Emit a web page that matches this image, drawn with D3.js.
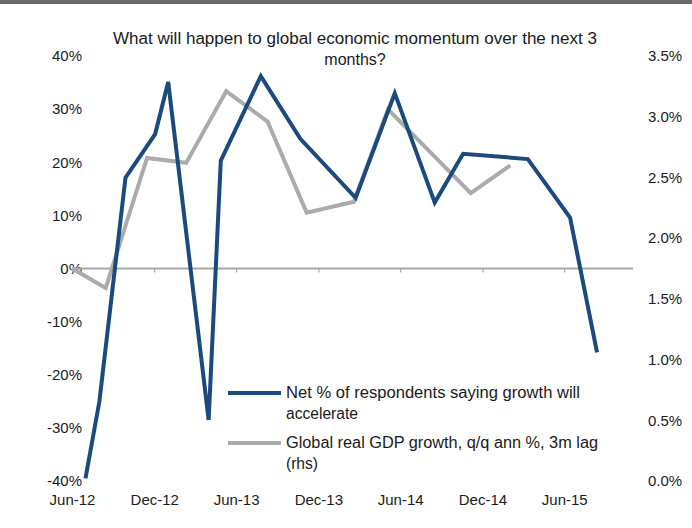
<!DOCTYPE html>
<html>
<head>
<meta charset="utf-8">
<script src="https://cdn.jsdelivr.net/npm/d3@7"></script>
<style>
  html, body { margin: 0; padding: 0; background: #ffffff; }
  svg { display: block; }
  text { font-family: "Liberation Sans Narrow", "Arial Narrow", "Liberation Sans", Arial, sans-serif; fill: #1a1a1a; }
</style>
</head>
<body>
<svg id="chart" width="692" height="528"></svg>
<script>
// ---------- DATA ----------
const titleLines = ["What will happen to global economic momentum over the next 3", "months?"];

const surveyDates = ["2012-07-01","2012-08-01","2012-09-28","2012-12-03","2013-01-01","2013-04-01","2013-04-28",
  "2013-07-26","2013-10-22","2014-02-22","2014-05-20","2014-08-17","2014-10-19","2015-03-12","2015-06-14","2015-08-13"];
const surveyValues = [-39.5, -25, 17.1, 25.3, 35.1, -28.5, 20.3, 36.2, 24.4, 13.3, 33.0, 12.4, 21.6, 20.6, 9.6, -15.8];

const gdpDates = ["2012-06-01","2012-08-15","2012-11-15","2013-02-10","2013-05-10","2013-08-10","2013-11-05",
  "2014-02-18","2014-05-05","2014-11-05","2015-02-01"];
const gdpValues = [1.75, 1.59, 2.66, 2.62, 3.21, 2.96, 2.21, 2.30, 3.06, 2.37, 2.60];

const xTickDates = ["2012-06-01","2012-12-01","2013-06-01","2013-12-01","2014-06-01","2014-12-01","2015-06-01"];
const xTickLabels = ["Jun-12","Dec-12","Jun-13","Dec-13","Jun-14","Dec-14","Jun-15"];
const leftTicks = [-40, -30, -20, -10, 0, 10, 20, 30, 40];
const rightTicks = [0, 0.5, 1.0, 1.5, 2.0, 2.5, 3.0, 3.5];

const legendLabels = [
  ["Net % of respondents saying growth will", "accelerate"],
  ["Global real GDP growth, q/q ann %, 3m lag", "(rhs)"]
];

// ---------- STYLE ----------
const blue = "#1b4a7e";
const gray = "#ababab";
const axisGray = "#a8a8a8";
const titleWidths = [484, 0];
const legendWidths = [[294, 72], [312, 32]];

const svg = d3.select("#chart");
const parse = d3.timeParse("%Y-%m-%d");

const x = d3.scaleTime()
  .domain([parse("2012-06-01"), parse("2015-11-01")])
  .range([72, 633]);
const yL = d3.scaleLinear().domain([-40, 40]).range([481, 56]);
const yR = d3.scaleLinear().domain([0, 3.5]).range([481, 56]);

// top rule (cropped header)
svg.append("rect").attr("x", 0).attr("y", 0).attr("width", 692).attr("height", 4).attr("fill", "#6a6a6a");

// title
svg.append("g").selectAll("text").data(titleLines).join("text")
  .attr("x", 355).attr("y", (d, i) => 44 + i * 21)
  .attr("text-anchor", "middle")
  .style("font-size", "16px")
  .each(function (d, i) {
    if (titleWidths[i]) d3.select(this).attr("textLength", titleWidths[i]).attr("lengthAdjust", "spacingAndGlyphs");
  })
  .text(d => d);

// left axis
const gL = svg.append("g").attr("transform", "translate(82,0)")
  .call(d3.axisLeft(yL).tickValues(leftTicks).tickSize(0).tickPadding(0).tickFormat(d => d + "%"));
gL.select(".domain").remove();
gL.selectAll("text").style("font-size", "15px").style("font-family", null).attr("fill", "#1a1a1a");

// right axis
const gR = svg.append("g").attr("transform", "translate(648,0)")
  .call(d3.axisRight(yR).tickValues(rightTicks).tickSize(0).tickPadding(0).tickFormat(d => d3.format(".1f")(d) + "%"));
gR.select(".domain").remove();
gR.selectAll("text").style("font-size", "15px").style("font-family", null).attr("fill", "#1a1a1a");

// zero axis line with ticks
const gX = svg.append("g").attr("transform", `translate(0,${yL(0)})`)
  .call(d3.axisBottom(x).tickValues(xTickDates.map(parse)).tickSize(4).tickSizeOuter(0).tickFormat(""));
gX.select(".domain").attr("stroke", axisGray).attr("stroke-width", 2).attr("d", `M${x.range()[0]},0H${x.range()[1]}`);
gX.selectAll(".tick line").attr("stroke", axisGray).attr("stroke-width", 1.2);

// bottom labels
const gXL = svg.append("g").attr("transform", "translate(0,481)")
  .call(d3.axisBottom(x).tickValues(xTickDates.map(parse)).tickSize(0).tickPadding(13)
    .tickFormat((d, i) => xTickLabels[i]));
gXL.select(".domain").remove();
gXL.selectAll("text").style("font-size", "15px").style("font-family", null).attr("fill", "#1a1a1a");

// lines
const gdpData = gdpDates.map((d, i) => ({ date: parse(d), v: gdpValues[i] }));
const surveyData = surveyDates.map((d, i) => ({ date: parse(d), v: surveyValues[i] }));

svg.append("path").datum(gdpData)
  .attr("fill", "none").attr("stroke", gray).attr("stroke-width", 4).attr("stroke-linejoin", "miter")
  .attr("d", d3.line().x(d => x(d.date)).y(d => yR(d.v)));

svg.append("path").datum(surveyData)
  .attr("fill", "none").attr("stroke", blue).attr("stroke-width", 4).attr("stroke-linejoin", "miter")
  .attr("d", d3.line().x(d => x(d.date)).y(d => yL(d.v)));

// legend
const legendColors = [blue, gray];
const legendY = [393, 443];
const lg = svg.append("g");
legendLabels.forEach((lines, i) => {
  lg.append("line").attr("x1", 228).attr("x2", 281).attr("y1", legendY[i]).attr("y2", legendY[i])
    .attr("stroke", legendColors[i]).attr("stroke-width", 4);
  lg.append("g").selectAll("text").data(lines).join("text")
    .attr("x", 286).attr("y", (d, j) => legendY[i] + 5 + j * 21)
    .style("font-size", "16px")
    .attr("textLength", (d, j) => legendWidths[i][j])
    .attr("lengthAdjust", "spacingAndGlyphs")
    .text(d => d);
});
</script>
</body>
</html>
